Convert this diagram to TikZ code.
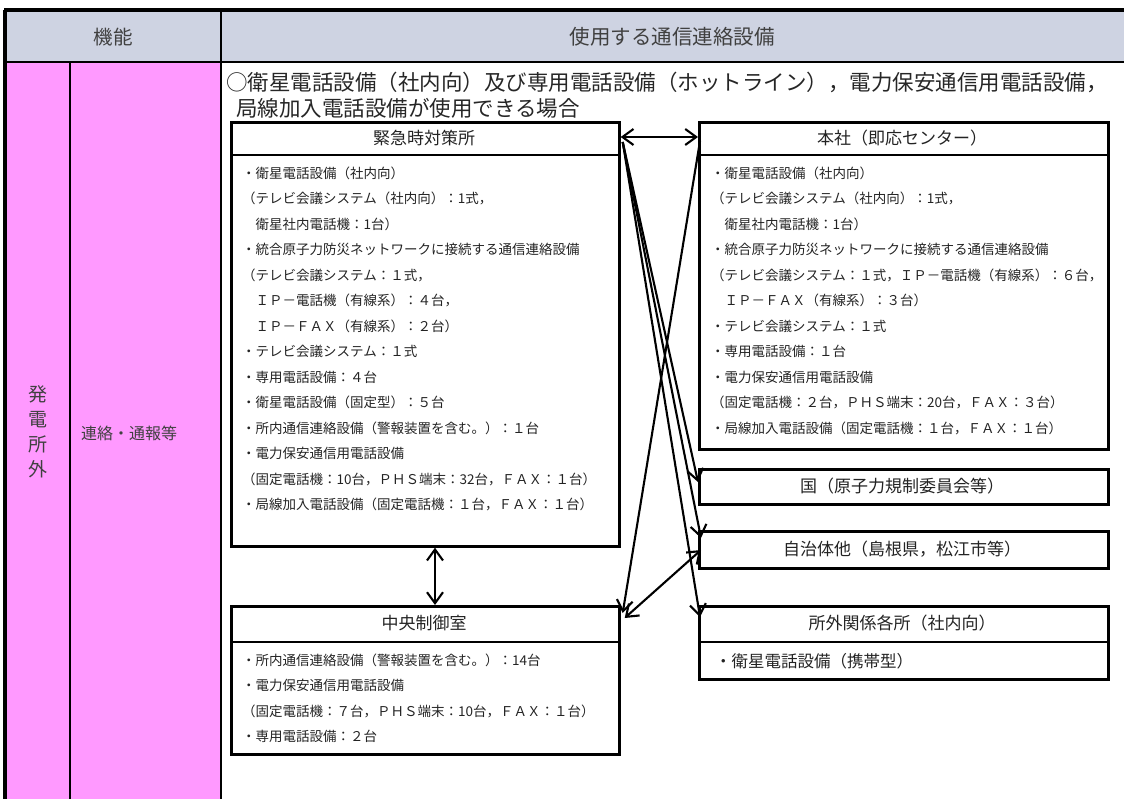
\documentclass[tikz,border=0pt]{standalone}
\usepackage{fontspec}
\setmainfont{Noto Sans CJK JP}
\usetikzlibrary{arrows.meta}
\definecolor{hdr}{RGB}{206,211,226}
\definecolor{pnk}{RGB}{255,153,255}
\definecolor{txt}{RGB}{35,35,35}
\tikzset{
  bx/.style={draw, line width=2.7pt, inner sep=0pt, anchor=north west},
  sep/.style={line width=2.3pt},
  ttl/.style={font=\fontsize{17}{20}\selectfont, text=txt, inner sep=0pt},
  body/.style={font=\fontsize{13.5}{25.5}\selectfont, align=left, inner sep=0pt, anchor=north west, text=txt},
  arr/.style={line width=2.1pt, -{Straight Barb[length=11pt,width=16pt]}},
  darr/.style={line width=2.1pt, {Straight Barb[length=11pt,width=16pt]}-{Straight Barb[length=11pt,width=16pt]}},
  hd/.style={font=\fontsize{19.5}{22}\selectfont, text=black!75, inner sep=0pt}
}
\begin{document}
\begin{tikzpicture}[x=1pt,y=-1pt]
\useasboundingbox (0,0) rectangle (1124,799);
% table background
\fill[hdr] (5,10) rectangle (1124,62);
\fill[pnk] (5,62) rectangle (221,799);
\draw[line width=4pt] (4,10) -- (1124,10);
\draw[line width=2pt] (5,62) -- (1124,62);
\draw[line width=3.5pt] (5,10) -- (5,799);
\draw[line width=2.4pt] (221,10) -- (221,799);
\draw[line width=2pt] (70,62) -- (70,799);
% header texts
\node[hd] (h1) at (113,37) {機能};
\node[hd, font=\fontsize{20.5}{22}\selectfont] (h2) at (672,37) {使用する通信連絡設備};
\node[hd, font=\fontsize{19}{25}\selectfont, align=center] (v1) at (38,432) {発\\電\\所\\外};
\node[hd, font=\fontsize{16}{20}\selectfont] (v2) at (129,433) {連絡・通報等};
% intro
\node[body, font=\fontsize{21.5}{24}\selectfont, text=black!85] (intro) at (226,71.4)
  {\strut ○衛星電話設備（社内向）及び専用電話設備（ホットライン），電力保安通信用電話設備，\\
   \hspace*{10pt}局線加入電話設備が使用できる場合};
% boxes
\node[bx, minimum width=388pt, minimum height=424pt] (kin) at (230,121) {};
\draw[sep] ([yshift=-34pt]kin.north west) -- ([yshift=-34pt]kin.north east);
\node[ttl] (kint) at (424,138) {緊急時対策所};
\node[body] (kinb) at (242,160.3) {\strut ・衛星電話設備（社内向）\\
（テレビ会議システム（社内向）：1式，\\
　衛星社内電話機：1台）\\
・統合原子力防災ネットワークに接続する通信連絡設備\\
（テレビ会議システム：１式，\\
　ＩＰ－電話機（有線系）：４台，\\
　ＩＰ－ＦＡＸ（有線系）：２台）\\
・テレビ会議システム：１式\\
・専用電話設備：４台\\
・衛星電話設備（固定型）：５台\\
・所内通信連絡設備（警報装置を含む。）：１台\\
・電力保安通信用電話設備\\
（固定電話機：10台，ＰＨＳ端末：32台，ＦＡＸ：１台）\\
・局線加入電話設備（固定電話機：１台，ＦＡＸ：１台）};

\node[bx, minimum width=409pt, minimum height=327pt] (hon) at (698,121) {};
\draw[sep] ([yshift=-34pt]hon.north west) -- ([yshift=-34pt]hon.north east);
\node[ttl] (hont) at (902,138) {本社（即応センター）};
\node[body] (honb) at (711,160.3) {\strut ・衛星電話設備（社内向）\\
（テレビ会議システム（社内向）：1式，\\
　衛星社内電話機：1台）\\
・統合原子力防災ネットワークに接続する通信連絡設備\\
（テレビ会議システム：１式，ＩＰ－電話機（有線系）：６台，\\
　ＩＰ－ＦＡＸ（有線系）：３台）\\
・テレビ会議システム：１式\\
・専用電話設備：１台\\
・電力保安通信用電話設備\\
（固定電話機：２台，ＰＨＳ端末：20台，ＦＡＸ：３台）\\
・局線加入電話設備（固定電話機：１台，ＦＡＸ：１台）};

\node[bx, minimum width=409pt, minimum height=35pt] (koku) at (698,468) {};
\node[ttl] (kokut) at (902,486) {国（原子力規制委員会等）};

\node[bx, minimum width=409pt, minimum height=37pt] (jichi) at (698,530) {};
\node[ttl] (jichit) at (902,549) {自治体他（島根県，松江市等）};

\node[bx, minimum width=388pt, minimum height=148pt] (chuo) at (230,605) {};
\draw[sep] ([yshift=-37pt]chuo.north west) -- ([yshift=-37pt]chuo.north east);
\node[ttl] (chuot) at (424,623) {中央制御室};
\node[body] (chuob) at (242,647.3) {\strut ・所内通信連絡設備（警報装置を含む。）：14台\\
・電力保安通信用電話設備\\
（固定電話機：７台，ＰＨＳ端末：10台，ＦＡＸ：１台）\\
・専用電話設備：２台};

\node[bx, minimum width=409pt, minimum height=73pt] (sho) at (698,605) {};
\draw[sep] ([yshift=-37pt]sho.north west) -- ([yshift=-37pt]sho.north east);
\node[ttl] (shot) at (902,623) {所外関係各所（社内向）};
\node[body, font=\fontsize{16.5}{20}\selectfont, anchor=west] (shob) at (715,661) {・衛星電話設備（携帯型）};

% connectors
\draw[darr] ([yshift=-16pt]kin.north east) -- ([yshift=-16pt]hon.north west);
\draw[darr] ([xshift=205pt]kin.south west) -- ([xshift=205pt]chuo.north west);
\coordinate (kc) at ([xshift=2pt,yshift=-21pt]kin.north east);
\coordinate (hc) at ([xshift=2pt,yshift=-20pt]hon.north west);
\draw[arr] (kc) -- ([yshift=-14pt]koku.north west);
\draw[arr] (kc) -- ([xshift=3pt,yshift=-8pt]jichi.north west);
\draw[arr] (kc) -- ([xshift=2pt,yshift=-12pt]sho.north west);
\draw[arr] (hc) -- ([xshift=2pt,yshift=-8pt]chuo.north east);
\draw[darr] ([xshift=4pt,yshift=-13pt]chuo.north east) -- ([xshift=3pt,yshift=-20pt]jichi.north west);
\end{tikzpicture}
\end{document}
